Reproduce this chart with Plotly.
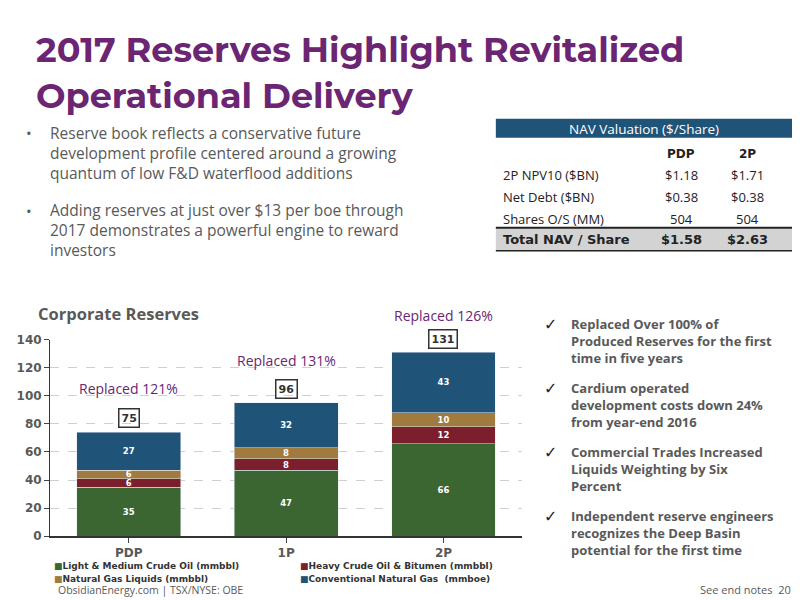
import plotly.graph_objects as go

categories = ["PDP", "1P", "2P"]
light_oil = [35, 47, 66]
heavy_oil = [6, 8, 12]
ngl = [6, 8, 10]
gas = [27, 32, 43]
totals = [75, 96, 131]
replaced = ["Replaced 121%", "Replaced 131%", "Replaced 126%"]
replaced_y = [97, 117, 149]

table_rows = [
    ["2P NPV10 ($BN)", "$1.18", "$1.71"],
    ["Net Debt ($BN)", "$0.38", "$0.38"],
    ["Shares O/S (MM)", "504", "504"],
]
table_total = ["Total NAV / Share", "$1.58", "$2.63"]

PURPLE = "#6b2572"
GREY = "#595959"
FONT = "Open Sans"
BOLD = "DejaVu Sans"
Y_MAX = 140


# the page shows the figure slightly inset/scaled; map target screen pixels to paper fractions
def px(x):
    return ((x - 10.5) / 0.987) / 800


def py(y):
    return 1 - ((y - 15) / 0.978) / 600


X_DOM = [px(52), px(518)]
Y_DOM = [py(537), py(340)]

series = [
    ("Light & Medium Crude Oil (mmbbl)", light_oil, "#3b6631"),
    ("Heavy Crude Oil & Bitumen (mmbbl)", heavy_oil, "#7a1f2b"),
    ("Natural Gas Liquids (mmbbl)", ngl, "#a07a3f"),
    ("Conventional Natural Gas  (mmboe)", gas, "#1f5478"),
]

fig = go.Figure()
for name, vals, color in series:
    fig.add_trace(go.Bar(
        x=categories, y=vals, name=name, marker_color=color,
        text=[f"<b>{v}</b>" for v in vals], textposition="inside", insidetextanchor="middle",
        textangle=0, constraintext="none",
        textfont=dict(color="white", size=8.5, family=BOLD),
    ))


def ypaper(v):
    return Y_DOM[0] + v / Y_MAX * (Y_DOM[1] - Y_DOM[0])


for c, t, r, ry in zip(categories, totals, replaced, replaced_y):
    fig.add_annotation(x=c, y=t + 2, text=f"<b>{t}</b>", showarrow=False, yanchor="bottom",
                       bordercolor="#333", borderwidth=1.5, borderpad=2,
                       font=dict(size=11, color="#333", family=BOLD))
    fig.add_annotation(x=c, yref="paper", y=ypaper(ry), text=r, showarrow=False, yanchor="bottom",
                       font=dict(size=14, color=PURPLE, family=FONT))

tick_font = dict(size=12, color=GREY, family=BOLD, weight="bold")
fig.update_layout(
    barmode="stack", bargap=0.34,
    uniformtext=dict(minsize=8, mode="show"),
    width=800, height=600, margin=dict(l=0, r=0, t=0, b=0),
    paper_bgcolor="white", plot_bgcolor="white",
    xaxis=dict(domain=X_DOM, showline=True, linecolor="#333", linewidth=1.5,
               ticks="outside", tickfont=tick_font),
    yaxis=dict(domain=Y_DOM, range=[0, Y_MAX], dtick=20, showgrid=True,
               gridcolor="#d0d0d0", griddash="dash", showline=True, linecolor="#333",
               ticks="outside", zeroline=False, tickfont=tick_font),
    showlegend=False,
    font=dict(family=FONT),
)


def txt(x, y, s, size, color, anchor="left", bold=False, family=FONT):
    fig.add_annotation(xref="paper", yref="paper", x=px(x), y=py(y), text=f"<b>{s}</b>" if bold else s,
                       showarrow=False, xanchor=anchor, yanchor="middle", align="left",
                       font=dict(size=size, color=color, family=family))


def hline(y, x0, x1, width):
    fig.add_shape(type="line", xref="paper", yref="paper", x0=px(x0), x1=px(x1),
                  y0=py(y), y1=py(y), line=dict(color="#222", width=width))


# legend drawn as text so it stays as compact as the reference
legend_pos = [(54, 567), (297, 567), (54, 580), (297, 580)]
for (name, _, color), (lx, ly) in zip(series, legend_pos):
    fig.add_annotation(xref="paper", yref="paper", x=px(lx), y=py(ly),
                       text=f"<span style='color:{color}'>■</span><b>{name}</b>",
                       showarrow=False, xanchor="left", yanchor="middle",
                       font=dict(size=9, color="#333", family=BOLD))

txt(36, 50, "2017 Reserves Highlight Revitalized", 35, PURPLE, bold=True, family="Montserrat, Open Sans")
txt(36, 96, "Operational Delivery", 35, PURPLE, bold=True, family="Montserrat, Open Sans")

# each bullet paragraph as one multi-line text
txt(26, 133, "•", 15, GREY)
txt(26, 211, "•", 15, GREY)
txt(50, 153, "Reserve book reflects a conservative future<br>development profile centered around a growing<br>"
    "quantum of low F&D waterflood additions", 15.5, GREY)
txt(50, 230, "Adding reserves at just over $13 per boe through<br>2017 demonstrates a powerful engine to reward<br>"
    "investors", 15.5, GREY)

txt(38, 314, "Corporate Reserves", 16.5, GREY, bold=True)

# NAV table
fig.add_shape(type="rect", xref="paper", yref="paper", x0=px(492), x1=px(785),
              y0=py(138), y1=py(119), fillcolor="#1f5478", line_width=0, layer="above")
txt(638, 129, "NAV Valuation ($/Share)", 13.5, "white", anchor="center")
txt(675, 154, "PDP", 12, "#222", anchor="center", bold=True, family=BOLD)
txt(740, 154, "2P", 12, "#222", anchor="center", bold=True, family=BOLD)
for i, (lab, a, b) in enumerate(table_rows):
    y = 175 + i * 22
    txt(497, y, lab, 13, "#222")
    txt(675, y, a, 13, "#222", anchor="center")
    txt(740, y, b, 13, "#222", anchor="center")
fig.add_shape(type="rect", xref="paper", yref="paper", x0=px(492), x1=px(785),
              y0=py(251), y1=py(228), fillcolor="#d3d3d3", line_width=0, layer="below")
hline(228, 492, 785, 2)
hline(251, 492, 785, 1.5)
txt(497, 240, table_total[0], 13, "#222", bold=True, family=BOLD)
txt(675, 240, table_total[1], 13, "#222", anchor="center", bold=True, family=BOLD)
txt(740, 240, table_total[2], 13, "#222", anchor="center", bold=True, family=BOLD)

checks = [
    (325, "Replaced Over 100% of<br>Produced Reserves for the first<br>time in five years"),
    (389, "Cardium operated<br>development costs down 24%<br>from year-end 2016"),
    (453, "Commercial Trades Increased<br>Liquids Weighting by Six<br>Percent"),
    (517, "Independent reserve engineers<br>recognizes the Deep Basin<br>potential for the first time"),
]
for y0, s in checks:
    txt(538, y0, "✓", 16, "#222", bold=True, family="DejaVu Sans")
    txt(564, y0 + 16.5, s, 13, GREY, bold=True)

txt(58, 591, "ObsidianEnergy.com | TSX/NYSE: OBE", 10.5, GREY)
txt(785, 590, "See end notes  20", 11, GREY, anchor="right")

fig.write_html("out.html")
